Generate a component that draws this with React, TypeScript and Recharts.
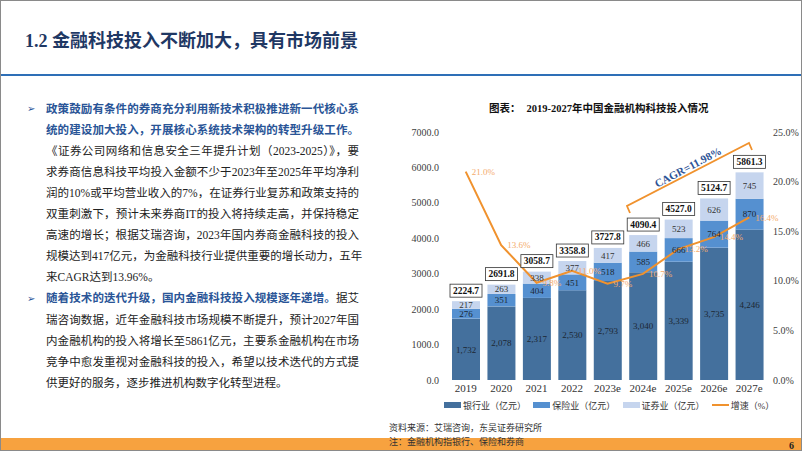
import React from "react";
import {
  ComposedChart,
  Bar,
  Line,
  XAxis,
  YAxis,
  Legend,
  LabelList,
} from "recharts";

const years = ["2019", "2020", "2021", "2022", "2023e", "2024e", "2025e", "2026e", "2027e"];
const bank = [1732, 2078, 2317, 2530, 2793, 3040, 3339, 3735, 4246];
const insurance = [276, 351, 404, 451, 518, 585, 666, 764, 870];
const securities = [217, 263, 338, 377, 417, 466, 523, 626, 745];
const totals = [2224.7, 2691.8, 3058.7, 3358.8, 3727.8, 4090.4, 4527.0, 5124.7, 5861.3];
const growth = [21.0, 13.6, 9.8, 11.0, 9.7, 10.7, 13.2, 14.4, 16.4];
const leftTicks = [0, 1000, 2000, 3000, 4000, 5000, 6000, 7000];
const rightTicks = [0, 5, 10, 15, 20, 25];
const seriesNames = ["银行业（亿元）", "保险业（亿元）", "证券业（亿元）", "增速（%）"];

const data = years.map((year, i) => ({
  year,
  bank: bank[i],
  insurance: insurance[i],
  securities: securities[i],
  total: totals[i],
  growth: growth[i],
}));

const SERIF = "'Liberation Serif', 'Noto Sans CJK SC', serif";
const CJK = "'Liberation Serif', 'Noto Sans CJK SC', sans-serif";
const BLUE_TEXT = "#2a5597";
const ORANGE = "#f0922e";

// body text, one entry per visual line: [text, bold]
type Seg = [string, boolean];
const bodyLines: { segs: Seg[]; bullet?: boolean; last?: boolean }[] = [
  { bullet: true, segs: [["政策鼓励有条件的券商充分利用新技术积极推进新一代核心系", true]] },
  { segs: [["统的建设加大投入，开展核心系统技术架构的转型升级工作。", true]] },
  { segs: [["《证券公司网络和信息安全三年提升计划（2023-2025）》，要", false]] },
  { segs: [["求券商信息科技平均投入金额不少于2023年至2025年平均净利", false]] },
  { segs: [["润的10%或平均营业收入的7%，在证券行业复苏和政策支持的", false]] },
  { segs: [["双重刺激下，预计未来券商IT的投入将持续走高，并保持稳定", false]] },
  { segs: [["高速的增长；根据艾瑞咨询，2023年国内券商金融科技的投入", false]] },
  { segs: [["规模达到417亿元，为金融科技行业提供重要的增长动力，五年", false]] },
  { last: true, segs: [["来CAGR达到13.96%。", false]] },
  { bullet: true, segs: [["随着技术的迭代升级，国内金融科技投入规模逐年递增。", true], ["据艾", false]] },
  { segs: [["瑞咨询数据，近年金融科技市场规模不断提升，预计2027年国", false]] },
  { segs: [["内金融机构的投入将增长至5861亿元，主要系金融机构在市场", false]] },
  { segs: [["竞争中愈发重视对金融科技的投入，希望以技术迭代的方式提", false]] },
  { last: true, segs: [["供更好的服务，逐步推进机构数字化转型进程。", false]] },
];

const TotalLabel = (props: any) => {
  const vb = props.viewBox || props;
  const x = vb.x ?? props.x;
  const y = vb.y ?? props.y;
  const width = vb.width ?? props.width;
  const cx = x + width / 2;
  return (
    <g>
      <rect x={cx - 16} y={y - 17} width={32} height={13} fill="#fff" stroke="#333" strokeWidth={0.8} />
      <text
        x={cx}
        y={y - 10.5}
        textAnchor="middle"
        dominantBaseline="central"
        fontSize={9.5}
        fontWeight="bold"
        fontFamily={SERIF}
        fill="#111"
      >
        {Number(props.value).toFixed(1)}
      </text>
    </g>
  );
};

const LegendContent = (props: any) => {
  const payload = [...(props.payload || [])].sort(
    (a: any, b: any) => seriesNames.indexOf(a.value) - seriesNames.indexOf(b.value)
  );
  return (
    <div style={{ display: "flex", paddingLeft: 63, height: 16, alignItems: "center" }}>
      {payload.map((p: any) => (
        <div key={p.value} style={{ width: 90, display: "flex", alignItems: "center" }}>
          <span
            style={{
              display: "inline-block",
              width: 17,
              height: p.type === "line" ? 2 : 6,
              background: p.color,
            }}
          />
          <span style={{ marginLeft: 2, fontSize: 9, color: "#333", fontFamily: CJK }}>{p.value}</span>
        </div>
      ))}
    </div>
  );
};

const FinChart = () => (
  <ComposedChart
    width={420}
    height={300}
    data={data}
    margin={{ top: 11, right: 0, left: 0, bottom: 8 }}
  >
    <XAxis
      dataKey="year"
      axisLine={false}
      tickLine={false}
      tickSize={0}
      tickMargin={4}
      height={17}
      interval={0}
      tick={{ fontSize: 11, fill: "#333", fontFamily: SERIF }}
    />
    <YAxis
      yAxisId="left"
      width={67}
      domain={[0, 7000]}
      ticks={leftTicks}
      axisLine={false}
      tickLine={false}
      tickSize={6}
      tickMargin={3}
      tickFormatter={(v: number) => v.toFixed(1)}
      tick={{ fontSize: 10, fill: "#404040", fontFamily: SERIF }}
    />
    <YAxis
      yAxisId="right"
      orientation="right"
      width={34}
      domain={[0, 25]}
      ticks={rightTicks}
      axisLine={false}
      tickLine={false}
      tickSize={4}
      tickMargin={2}
      tickFormatter={(v: number) => v.toFixed(1) + "%"}
      tick={{ fontSize: 10, fill: "#404040", fontFamily: SERIF }}
    />
    <Legend
      verticalAlign="bottom"
      content={<LegendContent />}
      wrapperStyle={{ height: 16 }}
    />
    <Bar yAxisId="left" dataKey="bank" name={seriesNames[0]} stackId="a" fill="#44709d" barSize={28} isAnimationActive={false}>
      <LabelList
        dataKey="bank"
        position="center"
        fontSize={9}
        fill="#1c2733"
        fontFamily={SERIF}
        formatter={(v: any) => Number(v).toLocaleString("en-US")}
      />
    </Bar>
    <Bar yAxisId="left" dataKey="insurance" name={seriesNames[1]} stackId="a" fill="#5590d0" barSize={28} isAnimationActive={false}>
      <LabelList dataKey="insurance" position="center" fontSize={9} fill="#1c2733" fontFamily={SERIF} />
    </Bar>
    <Bar yAxisId="left" dataKey="securities" name={seriesNames[2]} stackId="a" fill="#c6d5ee" barSize={28} isAnimationActive={false}>
      <LabelList dataKey="securities" position="center" fontSize={9} fill="#333" fontFamily={SERIF} />
      <LabelList dataKey="total" content={<TotalLabel />} />
    </Bar>
    <Line
      yAxisId="right"
      dataKey="growth"
      name={seriesNames[3]}
      stroke={ORANGE}
      strokeWidth={2}
      dot={false}
      isAnimationActive={false}
    >
      <LabelList
        dataKey="growth"
        position="right"
        offset={6}
        fontSize={9}
        fill="#f4ab6c"
        fontFamily={SERIF}
        formatter={(v: any) => Number(v).toFixed(1) + "%"}
      />
    </Line>
  </ComposedChart>
);

export default function App() {
  return (
    <div
      style={{
        position: "absolute",
        left: 0,
        top: 0,
        width: 802,
        height: 451,
        overflow: "hidden",
        background: "#fff",
        boxSizing: "border-box",
        border: "1px solid #8a8a8a",
        fontFamily: CJK,
      }}
    >
      {/* header */}
      <div
        style={{
          position: "absolute",
          left: 24,
          top: 28,
          fontSize: 18,
          fontWeight: "bold",
          color: "#1f3864",
          lineHeight: "24px",
          whiteSpace: "nowrap",
        }}
      >
        1.2 金融科技投入不断加大，具有市场前景
      </div>
      <div style={{ position: "absolute", left: 0, top: 73, width: 802, height: 2, background: "#2e6fb7" }} />

      {/* body text */}
      {bodyLines.map((ln, i) => {
        const cy = 108 + 21.1 * i;
        return (
          <React.Fragment key={i}>
            {ln.bullet && (
              <div
                style={{
                  position: "absolute",
                  left: 26,
                  top: cy - 10,
                  fontSize: 10,
                  lineHeight: "20px",
                  color: BLUE_TEXT,
                  fontFamily: "'DejaVu Sans', sans-serif",
                }}
              >
                ➢
              </div>
            )}
            <div
              style={{
                position: "absolute",
                left: 45,
                top: cy - 10.5,
                width: 313,
                height: 21,
                lineHeight: "21px",
                fontSize: 11.5,
                whiteSpace: "nowrap",
                textAlign: "justify",
                textAlignLast: ln.last ? "left" : "justify",
                color: "#222",
              }}
            >
              {ln.segs.map(([t, b], k) => (
                <span key={k} style={b ? { color: BLUE_TEXT, fontWeight: "bold" } : undefined}>
                  {t}
                </span>
              ))}
            </div>
          </React.Fragment>
        );
      })}

      {/* chart title */}
      <div
        style={{
          position: "absolute",
          left: 488,
          top: 101,
          fontSize: 10.5,
          fontWeight: "bold",
          color: "#111",
          lineHeight: "14px",
          whiteSpace: "nowrap",
        }}
      >
        图表：<span style={{ marginLeft: 6 }}>2019-2027年中国金融机构科技投入情况</span>
      </div>

      <div style={{ position: "absolute", left: 380, top: 120 }}>
        <FinChart />
      </div>

      {/* CAGR bracket */}
      <svg width={802} height={451} style={{ position: "absolute", left: 0, top: 0, pointerEvents: "none" }}>
        <polyline
          points="629,212 626,205 748,142 751,149"
          fill="none"
          stroke={ORANGE}
          strokeWidth={1.8}
        />
        <text
          x={687}
          y={166}
          textAnchor="middle"
          dominantBaseline="central"
          transform="rotate(-28 687 166)"
          fontSize={11}
          fontWeight="bold"
          fontFamily={SERIF}
          fill="#2f5597"
        >
          CAGR=11.98%
        </text>
      </svg>

      {/* footer */}
      <div
        style={{
          position: "absolute",
          left: 0,
          top: 437,
          width: 802,
          height: 14,
          background: "#f7a23f",
        }}
      />
      <div style={{ position: "absolute", left: 388, top: 421, fontSize: 9, lineHeight: "13px", color: "#333", whiteSpace: "nowrap" }}>
        资料来源：艾瑞咨询，东吴证券研究所
      </div>
      <div style={{ position: "absolute", left: 388, top: 435, fontSize: 9, lineHeight: "13px", color: "#333", whiteSpace: "nowrap" }}>
        注：金融机构指银行、保险和券商
      </div>
      <div
        style={{
          position: "absolute",
          left: 788,
          top: 438,
          fontSize: 10,
          fontWeight: "bold",
          lineHeight: "13px",
          color: "#222",
          fontFamily: SERIF,
        }}
      >
        6
      </div>
    </div>
  );
}
